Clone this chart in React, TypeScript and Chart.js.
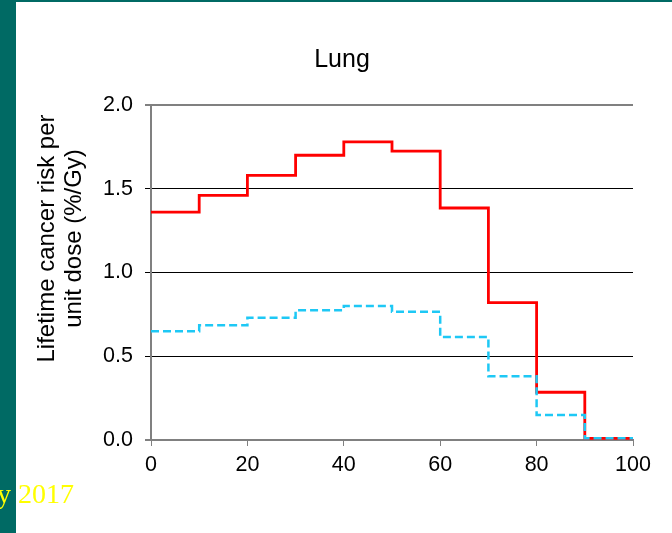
import React, { useEffect, useRef } from "react";
import { Chart, registerables } from "chart.js";

Chart.register(...registerables);

// Age at exposure bin edges (years)
const ageEdges = [0, 10, 20, 30, 40, 50, 60, 70, 80, 90, 100];
// Lifetime cancer risk per unit dose (%/Gy) for each 10-year bin
const redRisk = [1.36, 1.46, 1.58, 1.7, 1.78, 1.725, 1.385, 0.82, 0.285, 0.01];
const blueRisk = [0.65, 0.685, 0.73, 0.775, 0.8, 0.765, 0.615, 0.38, 0.15, 0.01];
const xTicks = [0, 20, 40, 60, 80, 100];
const yTicks = [0, 0.5, 1.0, 1.5, 2.0];
const chartTitle = "Lung";
const yTitleLines = ["Lifetime cancer risk per", "unit dose (%/Gy)"];
const footerText = "y 2017";

const FONT = "'Liberation Sans', Arial, sans-serif";

function stepPoints(values: number[]) {
  const pts = ageEdges.slice(0, values.length).map((x, i) => ({ x, y: values[i] }));
  pts.push({ x: ageEdges[values.length], y: values[values.length - 1] });
  return pts;
}

const textPlugin = {
  id: "textPlugin",
  afterDraw(chart: any) {
    const ctx = chart.ctx as CanvasRenderingContext2D;
    ctx.save();
    ctx.fillStyle = "#000";
    ctx.font = `25px ${FONT}`;
    ctx.textAlign = "center";
    ctx.textBaseline = "alphabetic";
    ctx.fillText(chartTitle, 342, 67);
    ctx.restore();

    ctx.save();
    ctx.fillStyle = "#000";
    ctx.font = `24px ${FONT}`;
    ctx.textAlign = "center";
    ctx.textBaseline = "alphabetic";
    ctx.translate(53.5, 238.5);
    ctx.rotate(-Math.PI / 2);
    yTitleLines.forEach((line, i) => ctx.fillText(line, 0, i * 27));
    ctx.restore();
  },
};

export default function App() {
  const ref = useRef<HTMLCanvasElement | null>(null);

  useEffect(() => {
    document.body.style.margin = "0";
    if (!ref.current) return;
    const chart = new Chart(ref.current, {
      type: "line",
      data: {
        datasets: [
          {
            label: "blue",
            data: stepPoints(blueRisk),
            borderColor: "#1ec8f5",
            borderWidth: 2.5,
            borderDash: [8, 4],
            stepped: "before",
            pointRadius: 0,
            fill: false,
          },
          {
            label: "red",
            data: stepPoints(redRisk),
            borderColor: "#ff0000",
            borderWidth: 2.8,
            stepped: "before",
            pointRadius: 0,
            fill: false,
          },
        ],
      },
      options: {
        animation: false,
        responsive: false,
        layout: { padding: { left: 0, top: 105, right: 39, bottom: 0 } },
        plugins: {
          legend: { display: false },
          title: { display: false },
          tooltip: { enabled: false },
        },
        scales: {
          x: {
            type: "linear",
            min: 0,
            max: 100,
            afterFit: (s: any) => {
              s.height = 93;
            },
            afterBuildTicks: (s: any) => {
              s.ticks = xTicks.map((v) => ({ value: v }));
            },
            ticks: {
              color: "#000",
              font: { family: FONT, size: 21.5 },
              padding: 6,
              maxRotation: 0,
            },
            grid: {
              drawOnChartArea: false,
              drawTicks: true,
              tickLength: 6,
              color: "#808080",
              lineWidth: 1,
            },
            border: { display: true, color: "#808080", width: 2 },
          },
          y: {
            type: "linear",
            min: 0,
            max: 2,
            afterFit: (s: any) => {
              s.width = 151;
            },
            afterBuildTicks: (s: any) => {
              s.ticks = yTicks.map((v) => ({ value: v }));
            },
            ticks: {
              color: "#000",
              font: { family: FONT, size: 21.5 },
              padding: 12,
              callback: (v: any) => Number(v).toFixed(1),
            },
            grid: {
              drawTicks: true,
              tickLength: 6,
              color: (c: any) =>
                c.tick && (c.tick.value === 2 || c.tick.value === 0) ? "#808080" : "#000000",
              lineWidth: (c: any) =>
                c.tick && (c.tick.value === 2 || c.tick.value === 0) ? 2 : 1,
            },
            border: { display: true, color: "#808080", width: 2 },
          },
        },
      },
      plugins: [textPlugin],
    } as any);
    return () => chart.destroy();
  }, []);

  return (
    <div
      style={{
        position: "relative",
        width: 672,
        height: 533,
        background: "#ffffff",
        overflow: "hidden",
      }}
    >
      <canvas
        ref={ref}
        width={672}
        height={533}
        style={{ position: "absolute", left: 0, top: 0, width: 672, height: 533 }}
      />
      <div
        style={{
          position: "absolute",
          left: 0,
          top: 0,
          width: 16,
          height: 533,
          background: "#006a64",
        }}
      />
      <div
        style={{
          position: "absolute",
          left: 0,
          top: 0,
          width: 672,
          height: 2,
          background: "#006a64",
        }}
      />
      <div
        style={{
          position: "absolute",
          left: -3,
          top: 480,
          fontFamily: "'Liberation Serif', 'Times New Roman', serif",
          fontSize: 28,
          lineHeight: "28px",
          color: "#ffff00",
          whiteSpace: "nowrap",
        }}
      >
        {footerText}
      </div>
    </div>
  );
}
